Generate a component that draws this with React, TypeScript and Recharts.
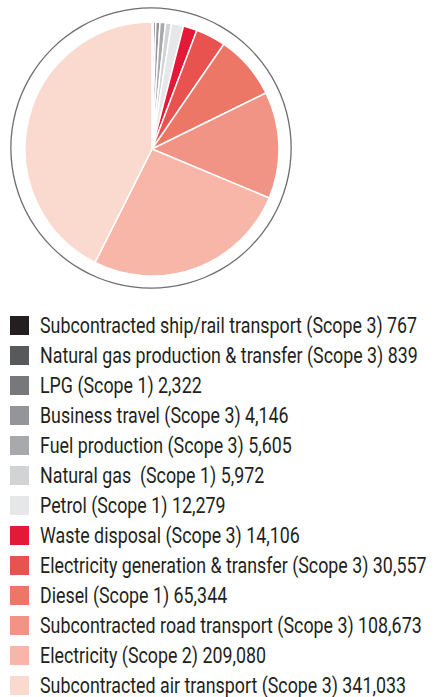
import React from 'react';
import { PieChart, Pie, Cell, Legend } from 'recharts';

// Emissions by source (t CO2e)
const categories = [
  'Subcontracted ship/rail transport (Scope 3)',
  'Natural gas production & transfer (Scope 3)',
  'LPG (Scope 1)',
  'Business travel (Scope 3)',
  'Fuel production (Scope 3)',
  'Natural gas  (Scope 1)',
  'Petrol (Scope 1)',
  'Waste disposal (Scope 3)',
  'Electricity generation & transfer (Scope 3)',
  'Diesel (Scope 1)',
  'Subcontracted road transport (Scope 3)',
  'Electricity (Scope 2)',
  'Subcontracted air transport (Scope 3)',
];

const emissions = [767, 839, 2322, 4146, 5605, 5972, 12279, 14106, 30557, 65344, 108673, 209080, 341033];

const colors = [
  '#231f20', '#58595b', '#77787b', '#939598', '#a7a9ac', '#d1d3d4', '#e6e7e8',
  '#e31937', '#e8534f', '#ed7767', '#f19486', '#f7b6a8', '#fad9cf',
];

const pieData = categories.map((name, i) => ({ name, value: emissions[i] }));
const ring = [{ name: 'ring', value: 1 }];

const LegendList = () => (
  <div>
    {categories.map((name, i) => (
      <div key={name} style={{ display: 'flex', alignItems: 'center', height: 30 }}>
        <span style={{ width: 19, height: 19, background: colors[i], marginRight: 11, flexShrink: 0 }} />
        <span
          style={{
            fontFamily: 'Roboto, "Noto Sans", sans-serif',
            fontSize: 22,
            color: '#231f20',
            whiteSpace: 'pre',
            display: 'inline-block',
            transform: 'scaleX(0.81)',
            transformOrigin: 'left center',
          }}
        >
          {name} {emissions[i].toLocaleString('en-US')}
        </span>
      </div>
    ))}
  </div>
);

const App: React.FC = () => {
  return (
    <div style={{ position: 'absolute', left: 0, top: 0, width: 434, height: 697, background: '#fff' }}>
      <PieChart width={434} height={697}>
        <Pie
          data={ring}
          dataKey="value"
          cx={146}
          cy={143}
          innerRadius={139.5}
          outerRadius={140.8}
          fill="#6d6e71"
          stroke="none"
          isAnimationActive={false}
          legendType="none"
        />
        <Pie
          data={pieData}
          dataKey="value"
          nameKey="name"
          cx={147}
          cy={144}
          outerRadius={127}
          startAngle={90}
          endAngle={-270}
          stroke="#ffffff"
          strokeWidth={1.5}
          isAnimationActive={false}
        >
          {pieData.map((d, i) => (
            <Cell key={d.name} fill={colors[i]} />
          ))}
        </Pie>
        <Legend
          layout="vertical"
          content={() => <LegendList />}
          wrapperStyle={{ left: 10, top: 310, width: 424 }}
        />
      </PieChart>
    </div>
  );
};

export default App;
